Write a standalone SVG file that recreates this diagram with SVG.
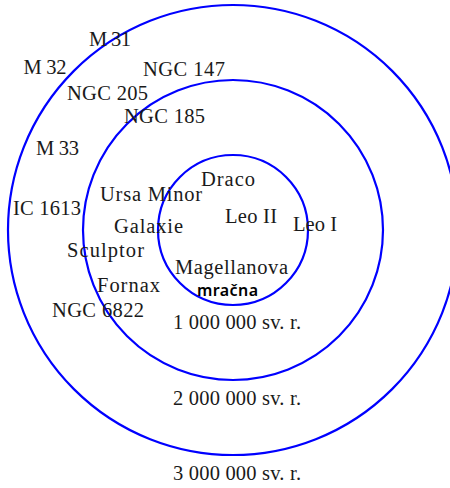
<svg xmlns="http://www.w3.org/2000/svg" width="450" height="488" viewBox="0 0 450 488">
<style>
.r{fill:none;stroke:#0000ff;stroke-width:2.2}
.t{font-family:"Liberation Serif","Times New Roman",serif;font-size:20.5px;fill:#1a1a1a;text-anchor:middle}
.s{font-family:"Noto Sans","DejaVu Sans",sans-serif;font-size:16px;font-weight:600;fill:#000;text-anchor:middle}
</style>
<rect width="450" height="488" fill="#fff"/>
<g id="rings">
<circle id="ring1" class="r" cx="233" cy="230" r="75"/>
<circle id="ring2" class="r" cx="233" cy="230" r="150"/>
<circle id="ring3" class="r" cx="233" cy="230" r="225"/>
</g>
<g id="labels">
<text class="t" x="110" y="46" textLength="42">M 31</text>
<text class="t" x="45" y="74" textLength="43">M 32</text>
<text class="t" x="184" y="76" textLength="82">NGC 147</text>
<text class="t" x="107.5" y="100" textLength="81">NGC 205</text>
<text class="t" x="164.5" y="123" textLength="81">NGC 185</text>
<text class="t" x="57.5" y="155" textLength="43">M 33</text>
<text class="t" x="47" y="215" textLength="68">IC 1613</text>
<text class="t" x="151" y="200.5" textLength="102">Ursa Minor</text>
<text class="t" x="148.5" y="233" textLength="69">Galaxie</text>
<text class="t" x="105.5" y="257" textLength="77">Sculptor</text>
<text class="t" x="128.5" y="292" textLength="63">Fornax</text>
<text class="t" x="98" y="317" textLength="92">NGC 6822</text>
<text class="t" x="228" y="186" textLength="54">Draco</text>
<text class="t" x="251" y="222.5" textLength="52">Leo II</text>
<text class="t" x="315" y="230.5" textLength="44">Leo I</text>
<text class="t" x="231.5" y="274" textLength="113">Magellanova</text>
<text class="s" x="227.5" y="296" textLength="61">mračna</text>
<text class="t" x="237" y="329" textLength="128">1 000 000 sv. r.</text>
<text class="t" x="237" y="405" textLength="128">2 000 000 sv. r.</text>
<text class="t" x="237" y="480" textLength="128">3 000 000 sv. r.</text>
</g>
</svg>
